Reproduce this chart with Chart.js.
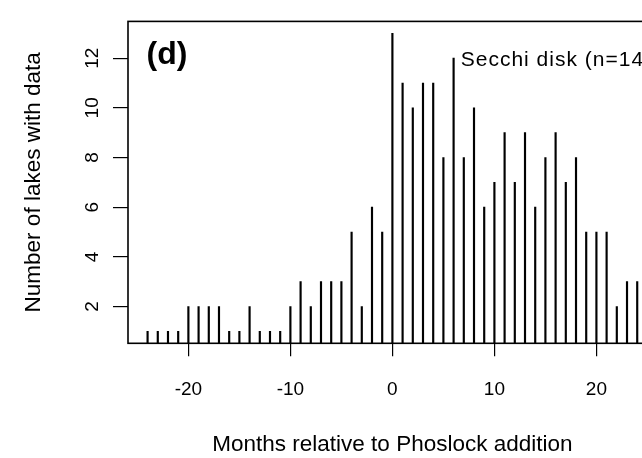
<!DOCTYPE html>
<html>
<head>
<meta charset="utf-8">
<title>Secchi disk data coverage</title>
<script src="https://cdn.jsdelivr.net/npm/chart.js@4/dist/chart.umd.min.js"></script>
<style>
    html, body { margin: 0; padding: 0; background: #fff; overflow: hidden; }
    #wrap { width: 642px; height: 458px; overflow: hidden; }
    canvas { display: block; }
</style>
</head>
<body>
<div id="wrap"><canvas id="lakesChart" width="680" height="458"></canvas></div>
<script>
// Months relative to the Phoslock addition, and how many lakes had a Secchi value
const months = [-24, -23, -22, -21, -20, -19, -18, -17, -16, -15, -14, -13, -12, -11, -10, -9, -8, -7, -6, -5, -4, -3, -2, -1,
    0, 1, 2, 3, 4, 5, 6, 7, 8, 9, 10, 11, 12, 13, 14, 15, 16, 17, 18, 19, 20, 21, 22, 23, 24];
const lakeCounts = [1, 1, 1, 1, 2, 2, 2, 2, 1, 1, 2, 1, 1, 1, 2, 3, 2, 3, 3, 3, 5, 2, 6, 5,
    13, 11, 10, 11, 11, 8, 12, 8, 10, 6, 7, 9, 7, 9, 6, 8, 9, 7, 8, 5, 5, 5, 2, 3, 3];
const xTicks = [-20, -10, 0, 10, 20];
const yTicks = [2, 4, 6, 8, 10, 12];

const panelLabel = "(d)";
const seriesLabel = "Secchi disk (n=14)";
const xTitle = "Months relative to Phoslock addition";
const yTitle = "Number of lakes with data";

const family = "'Liberation Sans', Arial, Helvetica, sans-serif";

// box around the plot region plus the two text labels inside it
const frameAndText = {
    id: "frameAndText",
    afterDatasetsDraw(chart) {
        const { ctx, chartArea: a, scales } = chart;
        ctx.save();
        ctx.strokeStyle = "#000";
        ctx.lineWidth = 1.6;
        ctx.strokeRect(a.left, a.top, a.right - a.left, a.bottom - a.top);

        ctx.fillStyle = "#000";
        ctx.textBaseline = "alphabetic";
        ctx.textAlign = "left";
        ctx.font = "bold 32px " + family;
        ctx.fillText(panelLabel, a.left + 18.5, 64);

        ctx.font = "21px " + family;
        ctx.letterSpacing = "1px";
        ctx.fillText(seriesLabel, scales.x.getPixelForValue(6.7), scales.y.getPixelForValue(11.68));
        ctx.restore();
    },
};

const ctx = document.getElementById("lakesChart").getContext("2d");
new Chart(ctx, {
    type: "bar",
    data: {
        datasets: [
            {
                data: months.map((m, i) => ({ x: m, y: lakeCounts[i] })),
                backgroundColor: "#000",
                borderWidth: 0,
                barThickness: 1.5,
                clip: 0,
            },
        ],
    },
    options: {
        responsive: false,
        animation: false,
        events: [],
        layout: { padding: { top: 11.7, right: 23.2, bottom: 0, left: 0 } },
        plugins: {
            legend: { display: false },
            tooltip: { enabled: false },
        },
        scales: {
            x: {
                type: "linear",
                min: -25.92,
                max: 25.92,
                offset: false,
                afterBuildTicks: (axis) => {
                    axis.ticks = xTicks.map((v) => ({ value: v }));
                },
                afterFit: (axis) => {
                    axis.height = 458 - 343.3;
                },
                grid: { offset: false, drawOnChartArea: false, drawTicks: true, tickLength: 13, color: "#000", lineWidth: 1.2 },
                border: { display: false },
                ticks: { color: "#000", font: { family: family, size: 19 }, padding: 22, maxRotation: 0, autoSkip: false },
                title: {
                    display: true,
                    text: xTitle,
                    color: "#000",
                    font: { family: family, size: 22.5 },
                    padding: { top: 0, bottom: 0 },
                },
            },
            y: {
                min: 0.52,
                max: 13.48,
                afterBuildTicks: (axis) => {
                    axis.ticks = yTicks.map((v) => ({ value: v }));
                },
                afterFit: (axis) => {
                    axis.width = 128;
                },
                grid: { drawOnChartArea: false, drawTicks: true, tickLength: 15, color: "#000", lineWidth: 1.2 },
                border: { display: false },
                ticks: {
                    color: "#000",
                    font: { family: family, size: 19 },
                    padding: 10,
                    minRotation: 90,
                    maxRotation: 90,
                    crossAlign: "center",
                },
                title: {
                    display: true,
                    text: yTitle,
                    color: "#000",
                    font: { family: family, size: 22.5 },
                    padding: { top: 20, bottom: 0 },
                },
            },
        },
    },
    plugins: [frameAndText],
});
</script>
</body>
</html>
